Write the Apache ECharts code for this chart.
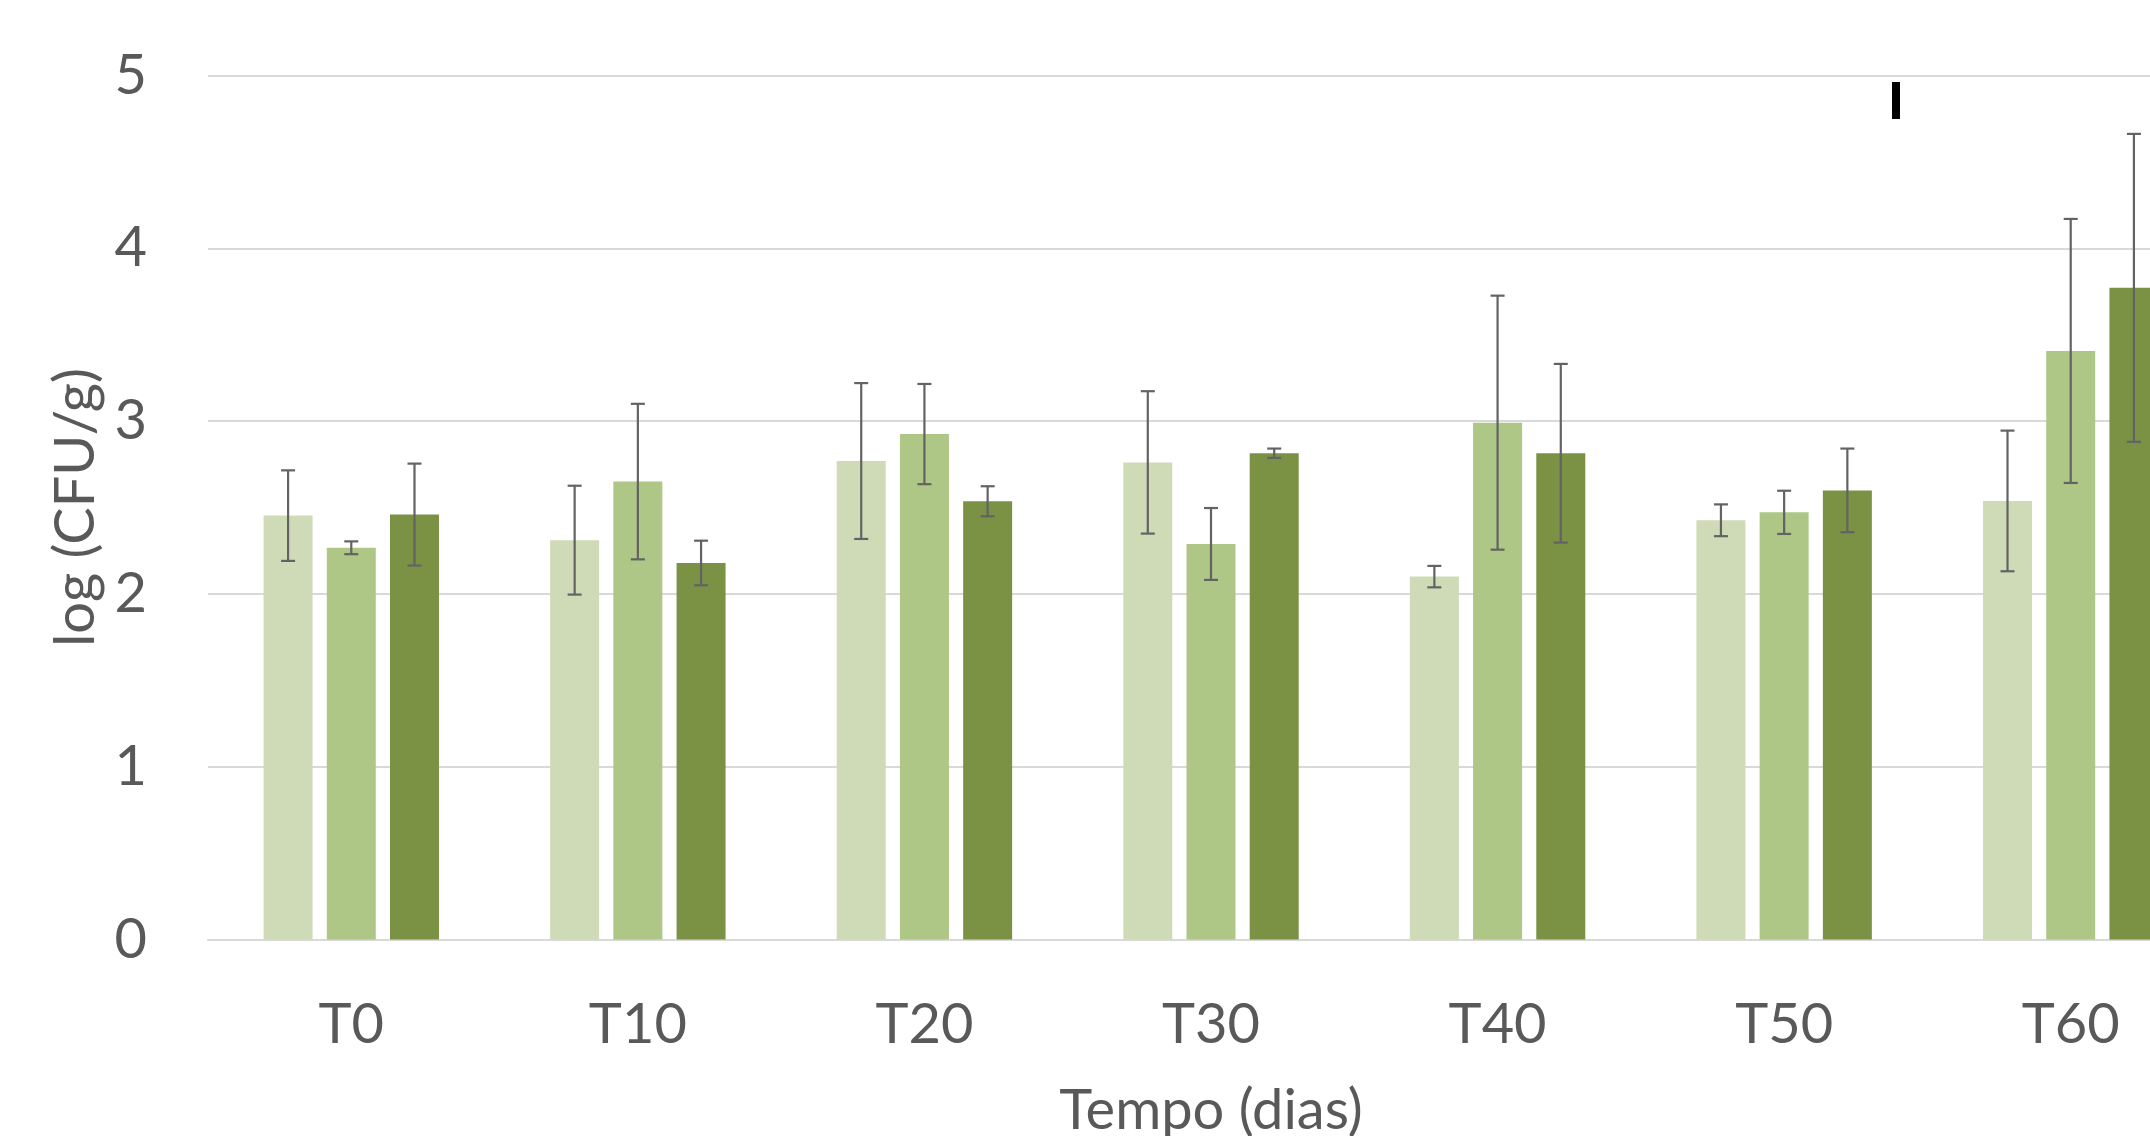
<!DOCTYPE html>
<html>
<head>
<meta charset="utf-8">
<script src="https://cdn.jsdelivr.net/npm/echarts@6/dist/echarts.min.js"></script>
<style>html,body{margin:0;padding:0;background:#fff;overflow:hidden;width:2150px;height:1136px}#c{width:2214px;height:1136px}</style>
</head>
<body>
<div id="c"></div>
<script>
var categories = ['T0', 'T10', 'T20', 'T30', 'T40', 'T50', 'T60'];
var serie1 = [2.453, 2.311, 2.769, 2.761, 2.100, 2.426, 2.538];
var serie2 = [2.267, 2.650, 2.925, 2.289, 2.991, 2.472, 3.406];
var serie3 = [2.459, 2.179, 2.536, 2.814, 2.814, 2.599, 3.771];
var err1 = [0.262, 0.315, 0.451, 0.412, 0.062, 0.092, 0.407];
var err2 = [0.037, 0.450, 0.290, 0.208, 0.735, 0.125, 0.764];
var err3 = [0.295, 0.129, 0.087, 0.027, 0.517, 0.242, 0.891];
var yTicks = [0, 1, 2, 3, 4, 5];

var colors = ['#CFDBB7', '#AEC686', '#7B9244'];
var BAR_W = 49, GAP = 0.29;
var FONT = 'Lato, "Open Sans", sans-serif';
var TXT = '#595959';

function errSeries(vals, errs, k) {
  var offset = (k - 1) * BAR_W * (1 + GAP);
  return {
    type: 'custom',
    z: 10,
    silent: true,
    data: vals.map(function (v, i) { return [i, v, errs[i]]; }),
    renderItem: function (params, api) {
      var x = api.value(0), v = api.value(1), e = api.value(2);
      var hi = api.coord([x, v + e]);
      var lo = api.coord([x, v - e]);
      var cx = hi[0] + offset;
      var st = { stroke: '#636363', lineWidth: 2.2 };
      return {
        type: 'group',
        children: [
          { type: 'line', shape: { x1: cx, y1: hi[1], x2: cx, y2: lo[1] }, style: st },
          { type: 'line', shape: { x1: cx - 7, y1: hi[1], x2: cx + 7, y2: hi[1] }, style: st },
          { type: 'line', shape: { x1: cx - 7, y1: lo[1], x2: cx + 7, y2: lo[1] }, style: st }
        ]
      };
    }
  };
}

var chart = echarts.init(document.getElementById('c'), null, { renderer: 'canvas' });
chart.setOption({
  animation: false,
  backgroundColor: '#fff',
  grid: { left: 208, top: 75.5, bottom: 196.5, right: 0, containLabel: false, outerBoundsMode: 'none' },
  xAxis: {
    type: 'category',
    data: categories,
    name: 'Tempo (dias)',
    nameLocation: 'middle',
    nameGap: 143,
    nameTextStyle: { fontFamily: FONT, fontSize: 56, color: TXT },
    axisLine: { show: true, lineStyle: { color: '#D9D9D9', width: 2 } },
    axisTick: { show: false },
    axisLabel: { fontFamily: FONT, fontSize: 56, color: TXT, margin: 57 },
    splitLine: { show: false }
  },
  yAxis: {
    type: 'value',
    min: yTicks[0],
    max: yTicks[yTicks.length - 1],
    interval: 1,
    name: 'log (CFU/g)',
    nameLocation: 'middle',
    nameRotate: 90,
    nameGap: 103,
    nameTextStyle: { fontFamily: FONT, fontSize: 56, color: TXT },
    axisLine: { show: false },
    axisTick: { show: false },
    axisLabel: { fontFamily: FONT, fontSize: 56, color: TXT, margin: 61 },
    splitLine: { show: true, lineStyle: { color: '#D9D9D9', width: 2 } }
  },
  series: [
    { type: 'bar', data: serie1, barWidth: BAR_W, barGap: (GAP * 100) + '%', itemStyle: { color: colors[0] } },
    { type: 'bar', data: serie2, barWidth: BAR_W, barGap: (GAP * 100) + '%', itemStyle: { color: colors[1] } },
    { type: 'bar', data: serie3, barWidth: BAR_W, barGap: (GAP * 100) + '%', itemStyle: { color: colors[2] } },
    errSeries(serie1, err1, 0),
    errSeries(serie2, err2, 1),
    errSeries(serie3, err3, 2)
  ],
  graphic: [
    { type: 'rect', left: 1892, top: 82, shape: { width: 8, height: 37 }, style: { fill: '#000' } }
  ]
});
</script>
</body>
</html>
